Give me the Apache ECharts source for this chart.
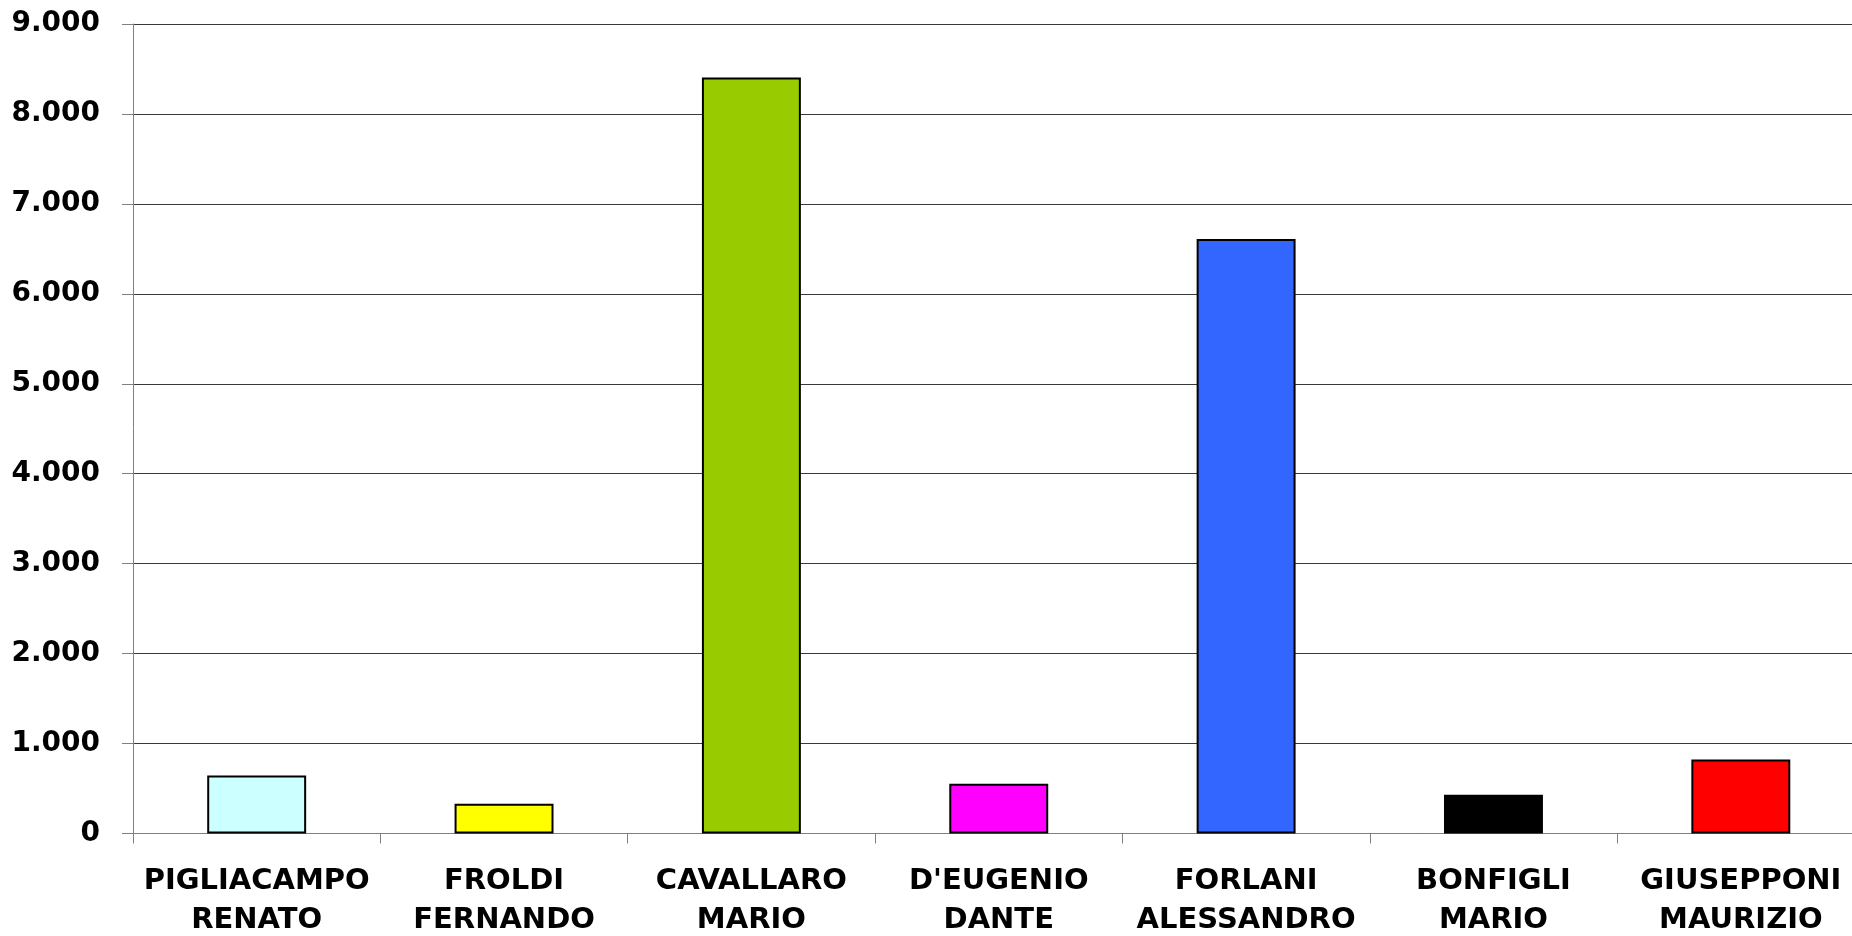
<!DOCTYPE html>
<html>
<head>
<meta charset="utf-8">
<script src="https://cdn.jsdelivr.net/npm/echarts@6/dist/echarts.min.js"></script>
<style>
html,body{margin:0;padding:0;background:#fff;}
#chart{width:1852px;height:936px;}
</style>
</head>
<body>
<div id="chart"></div>
<script>
const categories = ["PIGLIACAMPO\nRENATO", "FROLDI\nFERNANDO", "CAVALLARO\nMARIO", "D'EUGENIO\nDANTE", "FORLANI\nALESSANDRO", "BONFIGLI\nMARIO", "GIUSEPPONI\nMAURIZIO"];
const values = [644, 331, 8405, 553, 6610, 431, 822];
const barColors = ["#CCFFFF", "#FFFF00", "#99CC00", "#FF00FF", "#3366FF", "#000000", "#FF0000"];
const yTicks = { min: 0, max: 9000, interval: 1000 };

const chart = echarts.init(document.getElementById('chart'));
chart.setOption({
  animation: false,
  grid: { left: 133, top: 24, bottom: 102.5, right: -12.5, containLabel: false, outerBoundsMode: 'none' },
  xAxis: {
    type: 'category',
    data: categories,
    axisLine: { show: true, lineStyle: { color: '#808080', width: 1 } },
    axisTick: { show: true, length: 10, lineStyle: { color: '#808080' }, alignWithLabel: false },
    axisLabel: {
      interval: 0,
      margin: 28,
      color: '#000',
      fontFamily: 'DejaVu Sans',
      fontWeight: 'bold',
      fontSize: 29,
      lineHeight: 39
    }
  },
  yAxis: {
    type: 'value',
    min: yTicks.min,
    max: yTicks.max,
    interval: yTicks.interval,
    axisLine: { show: true, lineStyle: { color: '#808080', width: 1 } },
    axisTick: { show: true, length: 11, lineStyle: { color: '#808080' } },
    splitLine: { show: true, lineStyle: { color: '#3a3a3a', width: 1 } },
    axisLabel: {
      margin: 33,
      color: '#000',
      fontFamily: 'DejaVu Sans',
      fontWeight: 'bold',
      fontSize: 28,
      formatter: function (v) { return v.toLocaleString('it-IT').replace(/,/g, '.'); }
    }
  },
  series: [{
    type: 'bar',
    barWidth: '40%',
    data: values.map((v, i) => ({
      value: v,
      itemStyle: { color: barColors[i], borderColor: '#000', borderWidth: 2 }
    }))
  }]
});
</script>
</body>
</html>
